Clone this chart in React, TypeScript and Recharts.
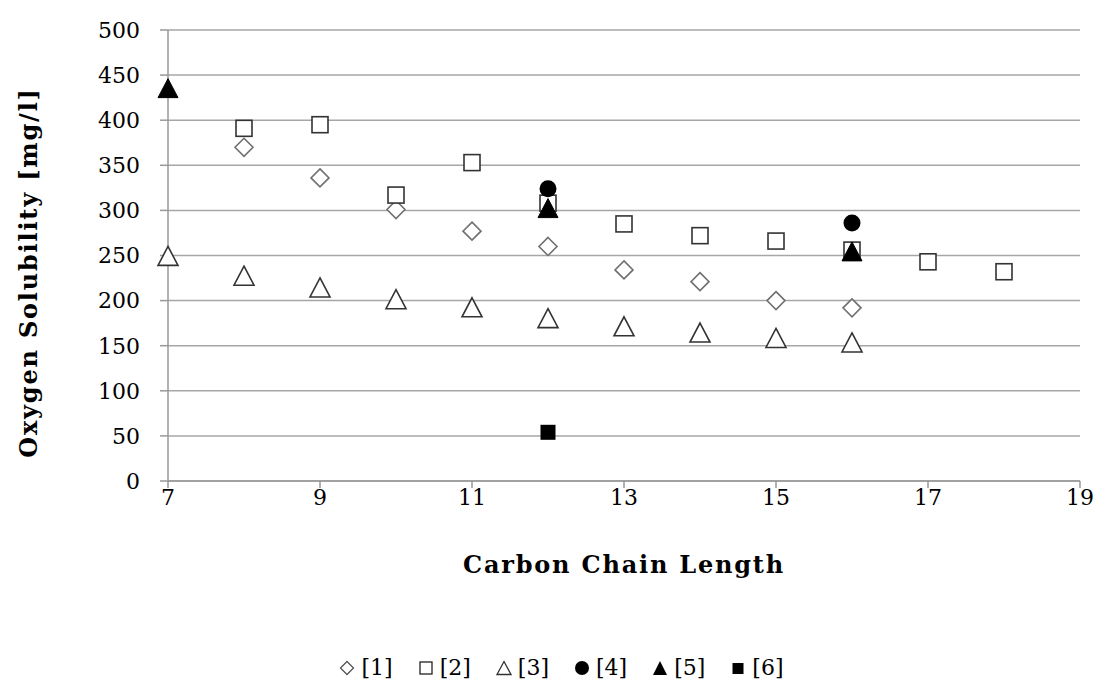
import React from 'react';
import { ScatterChart, Scatter, XAxis, YAxis, CartesianGrid, Legend } from 'recharts';

const seriesNames = ['[1]', '[2]', '[3]', '[4]', '[5]', '[6]'];

const x1 = [8, 9, 10, 11, 12, 13, 14, 15, 16];
const y1 = [370, 336, 301, 277, 260, 234, 221, 200, 192];

const x2 = [8, 9, 10, 11, 12, 13, 14, 15, 16, 17, 18];
const y2 = [391, 395, 317, 353, 308, 285, 272, 266, 256, 243, 232];

const x3 = [7, 8, 9, 10, 11, 12, 13, 14, 15, 16];
const y3 = [249, 227, 214, 201, 192, 180, 171, 164, 158, 153];

const x4 = [12, 16];
const y4 = [324, 286];

const x5 = [7, 12, 16];
const y5 = [435, 302, 254];

const x6 = [12];
const y6 = [54];

const xTicks = [7, 9, 11, 13, 15, 17, 19];
const yTicks = [0, 50, 100, 150, 200, 250, 300, 350, 400, 450, 500];

const toPoints = (xs: number[], ys: number[]) => xs.map((x, i) => ({ x, y: ys[i] }));

const FONT = '"DejaVu Serif", serif';

const Diamond = (p: any) => {
  const { cx, cy } = p;
  const r = 9;
  return <path d={`M${cx},${cy - r}L${cx + r},${cy}L${cx},${cy + r}L${cx - r},${cy}Z`} fill="#fff" stroke="#707070" strokeWidth={1.6} />;
};
const Square = (p: any) => {
  const { cx, cy } = p;
  const s = 8;
  return <rect x={cx - s} y={cy - s} width={2 * s} height={2 * s} fill="#fff" stroke="#333" strokeWidth={1.6} />;
};
const TriOpen = (p: any) => {
  const { cx, cy } = p;
  return <path d={`M${cx},${cy - 10}L${cx + 10},${cy + 9}L${cx - 10},${cy + 9}Z`} fill="#fff" stroke="#333" strokeWidth={1.6} />;
};
const CircleFilled = (p: any) => {
  const { cx, cy } = p;
  return <circle cx={cx} cy={cy} r={8.5} fill="#000" />;
};
const TriFilled = (p: any) => {
  const { cx, cy } = p;
  return <path d={`M${cx},${cy - 10}L${cx + 10},${cy + 9}L${cx - 10},${cy + 9}Z`} fill="#000" stroke="#000" strokeWidth={1} />;
};
const SquareFilled = (p: any) => {
  const { cx, cy } = p;
  const s = 7.5;
  return <rect x={cx - s} y={cy - s} width={2 * s} height={2 * s} fill="#000" />;
};

const legendIcons = [
  <svg width={16} height={16} key="i1"><path d="M8,1.5L14.5,8L8,14.5L1.5,8Z" fill="#fff" stroke="#555" strokeWidth={1.3} /></svg>,
  <svg width={16} height={16} key="i2"><rect x={2} y={2} width={12} height={12} fill="#fff" stroke="#222" strokeWidth={1.3} /></svg>,
  <svg width={16} height={16} key="i3"><path d="M8,1.5L15,14.5L1,14.5Z" fill="#fff" stroke="#333" strokeWidth={1.3} /></svg>,
  <svg width={16} height={16} key="i4"><circle cx={8} cy={8} r={7} fill="#000" /></svg>,
  <svg width={16} height={16} key="i5"><path d="M8,1L15,15L1,15Z" fill="#000" /></svg>,
  <svg width={16} height={16} key="i6"><rect x={2.5} y={3} width={11} height={11} fill="#000" /></svg>,
];

const LegendContent = () => (
  <div style={{ display: 'flex', justifyContent: 'center', alignItems: 'center', fontFamily: FONT, fontSize: 22, color: '#000', paddingLeft: 26 }}>
    {seriesNames.map((n, i) => (
      <div key={n} style={{ display: 'flex', alignItems: 'center', marginRight: i < 5 ? 25 : 0 }}>
        {legendIcons[i]}
        <span style={{ marginLeft: 6 }}>{n}</span>
      </div>
    ))}
  </div>
);

const YLabel = (props: any) => {
  const vb = props.viewBox || {};
  const x = (vb.x || 0) + 28;
  const y = (vb.y || 0) + (vb.height || 0) / 2 + 17;
  return (
    <text
      x={x}
      y={y}
      transform={`rotate(-90, ${x}, ${y})`}
      textAnchor="middle"
      dominantBaseline="central"
      style={{ fontFamily: FONT, fontSize: 24, fontWeight: 'bold', fill: '#000', letterSpacing: 1.8 }}
    >
      Oxygen Solubility [mg/l]
    </text>
  );
};

export default function App() {
  return (
    <div style={{ position: 'absolute', left: 0, top: 0, width: 1097, height: 686, background: '#fff' }}>
      <ScatterChart width={1097} height={686} margin={{ top: 30, right: 17, bottom: 105, left: 0 }}>
        <CartesianGrid horizontal vertical={false} stroke="#a6a6a6" strokeWidth={1.5} />
        <XAxis
          type="number"
          dataKey="x"
          domain={[7, 19]}
          ticks={xTicks}
          interval={0}
          allowDecimals={false}
          axisLine={{ stroke: '#999', strokeWidth: 1.5 }}
          tickLine={{ stroke: '#999', strokeWidth: 1.5 }}
          tickSize={7}
          tickMargin={1}
          height={100}
          tick={{ fill: '#000', fontSize: 22, fontFamily: FONT }}
          label={{ value: 'Carbon Chain Length', position: 'insideTop', offset: 75, style: { fontFamily: FONT, fontSize: 24, fontWeight: 'bold', fill: '#000', letterSpacing: 1.8 } }}
        />
        <YAxis
          type="number"
          dataKey="y"
          domain={[0, 500]}
          ticks={yTicks}
          interval={0}
          width={168}
          axisLine={{ stroke: '#999', strokeWidth: 1.5 }}
          tickLine={{ stroke: '#999', strokeWidth: 1.5 }}
          tickSize={8}
          tickMargin={20}
          tick={{ fill: '#000', fontSize: 22, fontFamily: FONT }}
          label={<YLabel />}
        />
        <Scatter name="[1]" data={toPoints(x1, y1)} shape={Diamond} isAnimationActive={false} />
        <Scatter name="[2]" data={toPoints(x2, y2)} shape={Square} isAnimationActive={false} />
        <Scatter name="[3]" data={toPoints(x3, y3)} shape={TriOpen} isAnimationActive={false} />
        <Scatter name="[4]" data={toPoints(x4, y4)} shape={CircleFilled} isAnimationActive={false} />
        <Scatter name="[5]" data={toPoints(x5, y5)} shape={TriFilled} isAnimationActive={false} />
        <Scatter name="[6]" data={toPoints(x6, y6)} shape={SquareFilled} isAnimationActive={false} />
        <Legend
          layout="horizontal"
          verticalAlign="middle"
          align="center"
          content={LegendContent as any}
          wrapperStyle={{ top: 655, left: 0, width: 1097, height: 34 }}
        />
      </ScatterChart>
    </div>
  );
}
